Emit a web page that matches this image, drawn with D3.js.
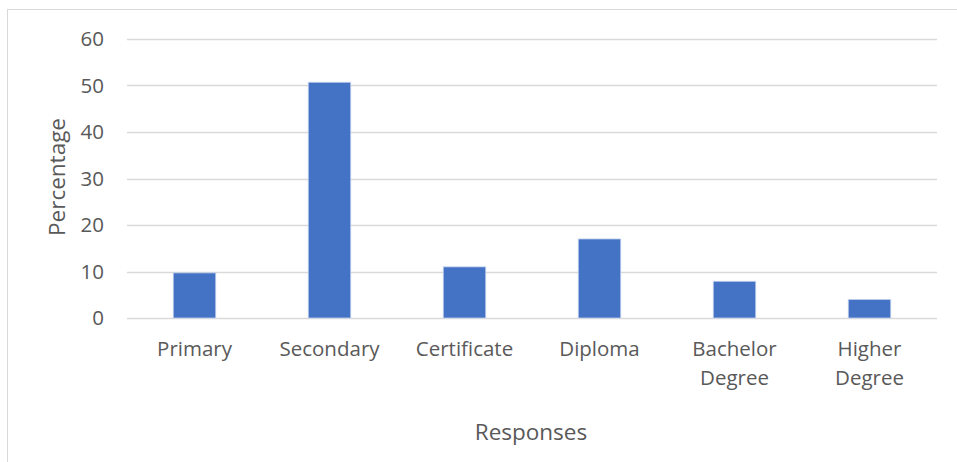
<!DOCTYPE html>
<html>
<head>
<meta charset="utf-8">
<script src="https://cdn.jsdelivr.net/npm/d3@7"></script>
<style>
  body { margin: 0; background: white; }
  text { font-family: "Open Sans", sans-serif; fill: #595959; }
</style>
</head>
<body>
<div id="chart"></div>
<script>
let categories = [["Primary"], ["Secondary"], ["Certificate"], ["Diploma"], ["Bachelor", "Degree"], ["Higher", "Degree"]];
let values = [9.7, 50.7, 11.0, 17.0, 7.9, 4.0];
let yTicks = [0, 10, 20, 30, 40, 50, 60];

let width = 957, height = 462;
let margin = { top: 39, bottom: 144, left: 127, right: 20 };

let svg = d3.select('#chart')
  .append('svg')
  .attr('width', width)
  .attr('height', height)
  .style('background', 'white');

// chart area border
svg.append('rect')
  .attr('x', 7.5)
  .attr('y', 9.5)
  .attr('width', width)
  .attr('height', height)
  .attr('fill', 'none')
  .attr('stroke', '#d9d9d9');

let keys = categories.map(d => d.join(' '));

let xscale = d3.scaleBand()
  .domain(keys)
  .range([margin.left, width - margin.right])
  .paddingInner(0.685)
  .paddingOuter(0.3425);

let yscale = d3.scaleLinear()
  .domain([0, 60])
  .range([height - margin.bottom, margin.top]);

// gridlines
svg.append('g')
  .selectAll('line')
  .data(yTicks)
  .enter()
  .append('line')
  .attr('x1', margin.left)
  .attr('x2', width - margin.right)
  .attr('y1', d => Math.round(yscale(d)) + 0.5)
  .attr('y2', d => Math.round(yscale(d)) + 0.5)
  .attr('stroke', '#d9d9d9')
  .attr('stroke-width', 1.3);

// y tick labels
let yAxis = svg.append('g')
  .attr('transform', `translate(${margin.left - 23}, 0)`)
  .call(d3.axisLeft(yscale).tickValues(yTicks).tickSize(0).tickPadding(0));
yAxis.select('.domain').remove();
yAxis.selectAll('text')
  .style('font-size', '20.5px')
  .attr('fill', '#595959');

// bars
svg.selectAll('rect.bar')
  .data(values)
  .enter()
  .append('rect')
  .attr('class', 'bar')
  .attr('x', (d, i) => xscale(keys[i]))
  .attr('y', d => yscale(d))
  .attr('width', xscale.bandwidth())
  .attr('height', d => yscale(0) - yscale(d))
  .attr('fill', '#4472c4')
  .attr('stroke', '#c5d3ee')
  .attr('stroke-width', 0.8);

// x category labels
let xl = svg.append('g');
categories.forEach((lines, i) => {
  let t = xl.append('text')
    .attr('x', xscale(keys[i]) + xscale.bandwidth() / 2)
    .attr('y', 356)
    .attr('text-anchor', 'middle')
    .style('font-size', '20.5px');
  lines.forEach((s, j) => {
    t.append('tspan')
      .attr('x', xscale(keys[i]) + xscale.bandwidth() / 2)
      .attr('dy', j === 0 ? 0 : 29)
      .text(s);
  });
});

svg.append('text')
  .text('Responses')
  .attr('x', (margin.left + width - margin.right) / 2 - 1)
  .attr('y', 440)
  .attr('text-anchor', 'middle')
  .style('font-size', '22.5px');

svg.append('text')
  .text('Percentage')
  .attr('x', -177)
  .attr('y', 65)
  .attr('transform', 'rotate(-90)')
  .attr('text-anchor', 'middle')
  .style('font-size', '22.5px');
</script>
</body>
</html>
